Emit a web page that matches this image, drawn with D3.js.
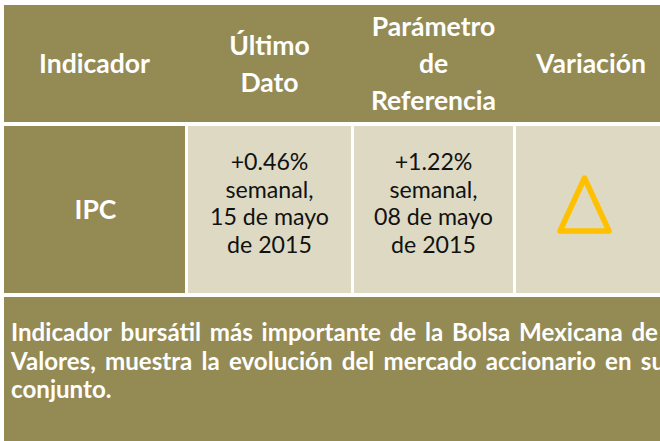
<!DOCTYPE html>
<html>
<head>
<meta charset="utf-8">
<script src="https://cdn.jsdelivr.net/npm/d3@7"></script>
<style>
  html, body { margin: 0; padding: 0; background: #ffffff; }
  svg { display: block; }
</style>
</head>
<body>
<svg id="chart" width="660" height="441"></svg>
<script>
// ---- data ----
const headers = [["Indicador"], ["Último", "Dato"], ["Parámetro", "de", "Referencia"], ["Variación"]];
const indicators = ["IPC"];
const lastValue = ["+0.46%", "semanal,", "15 de mayo", "de 2015"];
const refValue = ["+1.22%", "semanal,", "08 de mayo", "de 2015"];
const variation = ["up"];
const descriptionLines = [
  "Indicador bursátil más importante de la Bolsa Mexicana de",
  "Valores, muestra la evolución del mercado accionario en su",
  "conjunto."
];

// ---- layout ----
const W = 660, H = 441;
const OLIVE = "#948A54", LIGHT = "#DDD9C3", GOLD = "#FFC000";
const FONT = "Lato, 'Open Sans', sans-serif";
const colEdges = [[4, 185], [188, 351], [354, 513], [516, 666]];
const colIdx = d3.range(colEdges.length);
const xLeft = d3.scaleOrdinal().domain(colIdx).range(colEdges.map(e => e[0]));
const xRight = d3.scaleOrdinal().domain(colIdx).range(colEdges.map(e => e[1]));
const xMid = i => (xLeft(i) + xRight(i)) / 2;
const rows = { header: [5, 122], body: [126, 293], desc: [297, 460] };

const svg = d3.select("#chart");

// measuring helper
const meas = svg.append("text").attr("font-family", FONT).attr("x", -1000).attr("y", -1000);
function fitSize(str, weight, target) {
  meas.attr("font-weight", weight).attr("font-size", 100).text(str);
  const w = meas.node().getComputedTextLength();
  return 100 * target / w;
}
function textW(str, weight, size) {
  meas.attr("font-weight", weight).attr("font-size", size).text(str);
  return meas.node().getComputedTextLength();
}
const headSize = fitSize("Indicador", 700, 111);
const bodySize = fitSize("15 de mayo", 400, 119);
const descSize = fitSize(descriptionLines[0], 700, 624);

// ---- header row ----
svg.append("rect")
  .attr("x", 4).attr("y", rows.header[0])
  .attr("width", W + 10 - 4).attr("height", rows.header[1] - rows.header[0])
  .attr("fill", OLIVE);

const headG = svg.append("g");
headers.forEach((lines, i) => {
  const n = lines.length;
  headG.append("text")
    .attr("font-family", FONT).attr("font-weight", 700)
    .attr("font-size", headSize).attr("fill", "#ffffff")
    .attr("text-anchor", "middle")
    .selectAll("tspan").data(lines).join("tspan")
    .attr("x", xMid(i))
    .attr("y", (d, j) => 73 + (j - (n - 1) / 2) * 37)
    .text(d => d);
});

// ---- body row ----
const bodyFill = [OLIVE, LIGHT, LIGHT, LIGHT];
svg.append("g").selectAll("rect").data(colIdx).join("rect")
  .attr("x", i => xLeft(i)).attr("y", rows.body[0])
  .attr("width", i => xRight(i) - xLeft(i))
  .attr("height", rows.body[1] - rows.body[0])
  .attr("fill", i => bodyFill[i]);

const bodyMidY = (rows.body[0] + rows.body[1]) / 2;
svg.append("text")
  .attr("font-family", FONT).attr("font-weight", 700)
  .attr("font-size", headSize).attr("fill", "#ffffff")
  .attr("text-anchor", "middle")
  .attr("x", xMid(0) + 1).attr("y", bodyMidY + 9)
  .text(indicators[0]);

[[1, lastValue], [2, refValue]].forEach(([ci, lines]) => {
  const n = lines.length;
  svg.append("text")
    .attr("font-family", FONT).attr("font-weight", 400)
    .attr("font-size", bodySize).attr("fill", "#111111")
    .attr("text-anchor", "middle")
    .selectAll("tspan").data(lines).join("tspan")
    .attr("x", xMid(ci))
    .attr("y", (d, j) => bodyMidY + 2 + (j - (n - 1) / 2) * 27.8)
    .text(d => d);
});

// variation symbol: outlined triangle (up)
const triCx = 584.5, triTop = 178, triBot = 231, triHalf = 24.5;
svg.append("g").selectAll("path").data(variation).join("path")
  .attr("d", d => d === "up"
    ? `M${triCx},${triTop}L${triCx + triHalf},${triBot}L${triCx - triHalf},${triBot}Z`
    : `M${triCx},${triBot}L${triCx + triHalf},${triTop}L${triCx - triHalf},${triTop}Z`)
  .attr("fill", "none").attr("stroke", GOLD)
  .attr("stroke-width", 5.5).attr("stroke-linejoin", "round");

// ---- description row ----
svg.append("rect")
  .attr("x", 4).attr("y", rows.desc[0])
  .attr("width", W + 10 - 4).attr("height", rows.desc[1] - rows.desc[0])
  .attr("fill", OLIVE);

const descLeft = 11;
const descRight = [658, 665, 665];
const descBase = [341, 369.5, 398];
const descG = svg.append("g")
  .attr("font-family", FONT).attr("font-weight", 700)
  .attr("font-size", descSize).attr("fill", "#ffffff");
descriptionLines.forEach((line, li) => {
  const words = line.split(" ");
  const last = li === descriptionLines.length - 1;
  const widths = words.map(w => textW(w, 700, descSize));
  const spaceW = textW("a b", 700, descSize) - textW("ab", 700, descSize);
  const total = d3.sum(widths);
  const gap = (!last && words.length > 1)
    ? (descRight[li] - descLeft - total) / (words.length - 1)
    : spaceW;
  let x = descLeft;
  words.forEach((w, k) => {
    descG.append("text").attr("x", x).attr("y", descBase[li]).text(w);
    x += widths[k] + gap;
  });
});
meas.remove();
</script>
</body>
</html>
